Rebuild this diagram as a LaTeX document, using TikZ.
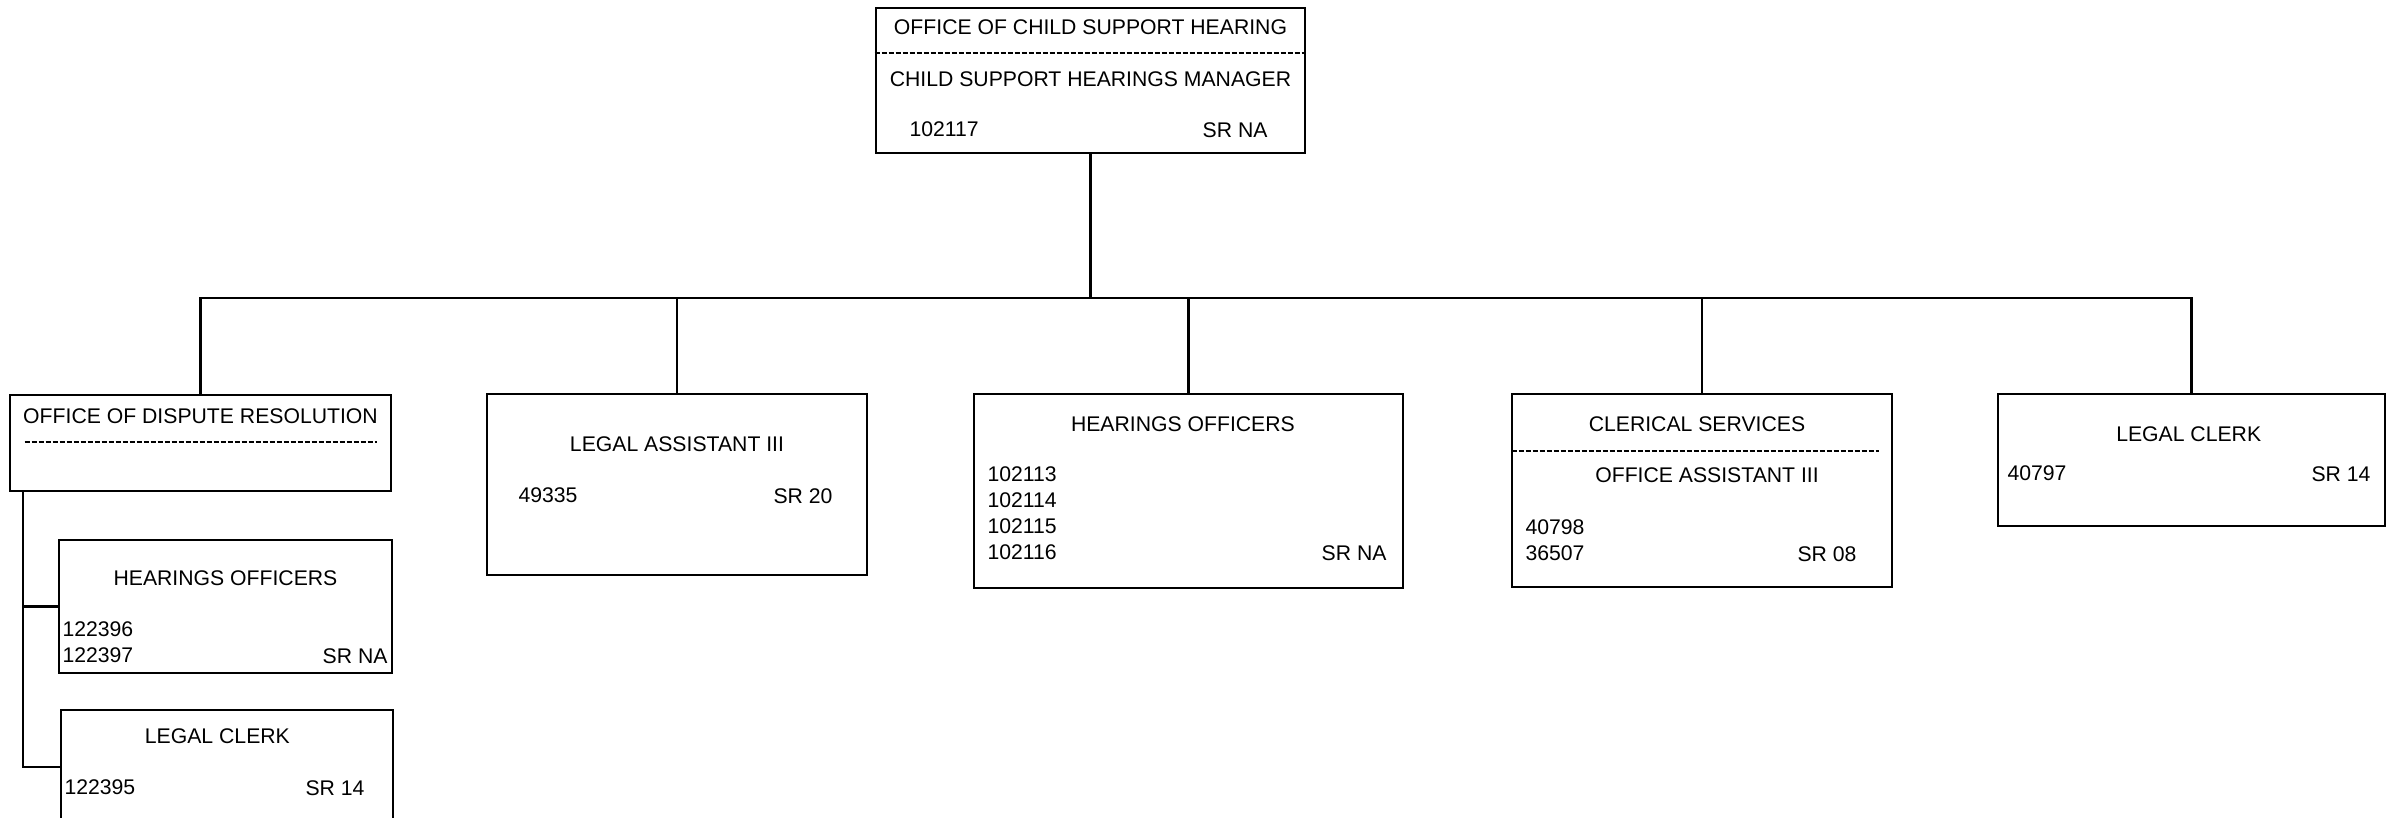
\documentclass[tikz,border=0pt]{standalone}
\usepackage{fontspec}
\setmainfont{Liberation Sans}
\usetikzlibrary{positioning}

\begin{document}
\begin{tikzpicture}[x=0.25pt,y=-0.25pt,
  post node/.style={draw,rectangle,line width=0.65pt,inner sep=0pt},
  title node/.style={inner sep=0pt,font=\fontsize{5.3}{6.5}\selectfont,anchor=base},
  left node/.style={title node,anchor=south west,align=left},
  right node/.style={title node,anchor=base east},
  split line/.style={line width=0.4pt,dash pattern=on 1.3pt off 0.45pt},
  wire/.style={line width=0.55pt}]

  \useasboundingbox (0,0) rectangle (2400,817);

  % boxes
  \node[post node,minimum width=107.25pt,minimum height=36.25pt] (chsm)  at (1090.5,80.5) {};
  \node[post node,minimum width=95.25pt,minimum height=24pt]     (odr)   at (200.5,443) {};
  \node[post node,minimum width=83.25pt,minimum height=33.25pt]  (subho) at (225.5,606.5) {};
  \node[post node,minimum width=83pt,minimum height=28.5pt]      (sublc) at (227,767) {};
  \node[post node,minimum width=95pt,minimum height=45.25pt]     (la)    at (677,484.5) {};
  \node[post node,minimum width=107.25pt,minimum height=48.5pt]  (ho)    at (1188.5,491) {};
  \node[post node,minimum width=95pt,minimum height=48.25pt]     (cs)    at (1702,490.5) {};
  \node[post node,minimum width=96.75pt,minimum height=33pt]     (lc)    at (2191.5,460) {};

  % office of child support hearing
  \node[title node] (chsmA) at ([yshift=-7pt]chsm.north) {OFFICE OF CHILD SUPPORT HEARING};
  \draw[split line] ([yshift=-11.5pt]chsm.north west) -- ([yshift=-11.5pt]chsm.north east);
  \node[title node] (chsmB) at ([yshift=-20pt]chsm.north) {CHILD SUPPORT HEARINGS MANAGER};
  \node[left node]  (chsmN) at ([shift={(8.5pt,-32.75pt)}]chsm.north west) {102117};
  \node[right node] (chsmR) at ([shift={(-9.5pt,-32.75pt)}]chsm.north east) {SR NA};

  % office of dispute resolution
  \node[title node] (odrA) at ([yshift=-7.5pt]odr.north) {OFFICE OF DISPUTE RESOLUTION};
  \draw[split line] ([shift={(4pt,-12pt)}]odr.north west) -- ([shift={(-3.75pt,-12pt)}]odr.north east);

  \node[title node] (subhoA) at ([yshift=-11.75pt]subho.north) {HEARINGS OFFICERS};
  \node[left node]  (subhoN) at ([shift={(1pt,-31.25pt)}]subho.north west) {122396\\122397};
  \node[right node] (subhoR) at ([shift={(-1.25pt,-31.25pt)}]subho.north east) {SR NA};

  \node[title node] (sublcA) at ([shift={(-2.4pt,-8.75pt)}]sublc.north) {LEGAL CLERK};
  \node[left node]  (sublcN) at ([shift={(1pt,-21.75pt)}]sublc.north west) {122395};
  \node[right node] (sublcR) at ([shift={(-7.25pt,-21.75pt)}]sublc.north east) {SR 14};

  % legal assistant
  \node[title node] (laA) at ([yshift=-14.75pt]la.north) {LEGAL ASSISTANT III};
  \node[left node]  (laN) at ([shift={(8pt,-27.75pt)}]la.north west) {49335};
  \node[right node] (laR) at ([shift={(-8.75pt,-27.75pt)}]la.north east) {SR 20};

  % hearings officers
  \node[title node] (hoA) at ([shift={(-1.4pt,-9.75pt)}]ho.north) {HEARINGS OFFICERS};
  \node[left node]  (hoN) at ([shift={(3.5pt,-42pt)}]ho.north west) {102113\\102114\\102115\\102116};
  \node[right node] (hoR) at ([shift={(-4.25pt,-42pt)}]ho.north east) {SR NA};

  % clerical services
  \node[title node] (csA) at ([shift={(-1.25pt,-9.75pt)}]cs.north) {CLERICAL SERVICES};
  \draw[split line] ([shift={(0.25pt,-14.5pt)}]cs.north west) -- ([shift={(-3.5pt,-14.5pt)}]cs.north east);
  \node[title node] (csB) at ([shift={(1.25pt,-22.5pt)}]cs.north) {OFFICE ASSISTANT III};
  \node[left node]  (csN) at ([shift={(3.5pt,-42.25pt)}]cs.north west) {40798\\36507};
  \node[right node] (csR) at ([shift={(-9pt,-42.25pt)}]cs.north east) {SR 08};

  % legal clerk
  \node[title node] (lcA) at ([shift={(-0.7pt,-12.25pt)}]lc.north) {LEGAL CLERK};
  \node[left node]  (lcN) at ([shift={(2.5pt,-22.25pt)}]lc.north west) {40797};
  \node[right node] (lcR) at ([shift={(-3.75pt,-22.25pt)}]lc.north east) {SR 14};

  % connectors
  \coordinate[below=36pt of chsm.south] (bus);
  \coordinate (trunk) at ([xshift=3.5pt]odr.south west);
  \draw[wire] (chsm.south) -- (bus);
  \draw[wire] (bus) -| (odr.north);
  \draw[wire] (bus) -| (la.north);
  \draw[wire] (bus) -| (ho.north);
  \draw[wire] (bus) -| (cs.north);
  \draw[wire] (bus) -| (lc.north);
  \draw[wire] (trunk) |- (subho.west);
  \draw[wire] (trunk) |- (sublc.west);
\end{tikzpicture}
\end{document}
